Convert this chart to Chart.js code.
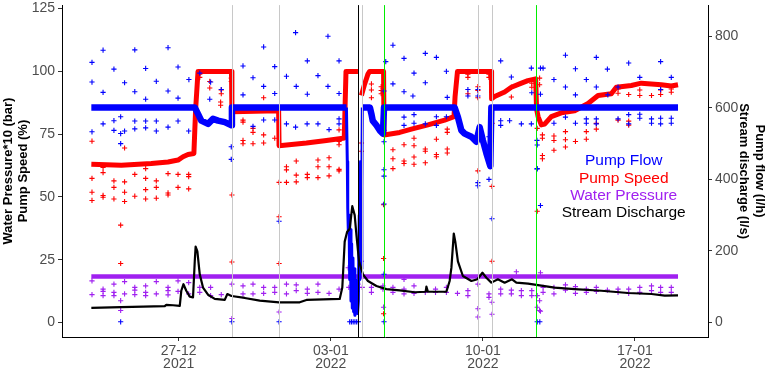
<!DOCTYPE html>
<html>
<head>
<meta charset="utf-8">
<script src="https://cdn.jsdelivr.net/npm/chart.js@4.4.1/dist/chart.umd.min.js"></script>
<style>
  html, body { margin: 0; padding: 0; background: #fff; }
  #wrap { width: 767px; height: 370px; }
</style>
</head>
<body>
<div id="wrap"><canvas id="chart" width="767" height="370"></canvas></div>
<script>
// x values: days after 27-12-2021 00:00
const xTicks = [0, 7, 14, 21];
const xTickLabels = [['27-12', '2021'], ['03-01', '2022'], ['10-01', '2022'], ['17-01', '2022']];
const leftTicks = [0, 25, 50, 75, 100, 125];
const rightTicks = [0, 200, 400, 600, 800];

const seriesNames = ['Pump Flow', 'Pump Speed', 'Water Pressure', 'Stream Discharge'];
const seriesColors = ['#0000ff', '#ff0000', '#a020f0', '#000000'];

// event markers (vertical lines)
const markerDays = [2.45, 4.62, 8.27, 8.42, 9.45, 13.77, 14.42, 16.43];
const markerColors = ['#c8c8c8', '#c8c8c8', '#000000', '#c8c8c8', '#00ee00', '#c8c8c8', '#c8c8c8', '#00ee00'];

// Pump flow (l/h), main band
const flowBand = [
  [-4.02, 601], [0.74, 601], [0.89, 583], [1.04, 564], [1.35, 555], [1.58, 569], [1.81, 564],
  [2.12, 560], [2.43, 551], [2.45, 601], [7.72, 601],
  [7.76, 450], [7.78, 320], [7.81, 250], [7.84, 300], [7.87, 120], [7.90, 260], [7.93, 60],
  [7.96, 220], [7.99, 40], [8.02, 180], [8.05, 30], [8.08, 150], [8.11, 20], [8.14, 120],
  [8.17, 30], [8.20, 80], [8.23, 25], [8.27, 60], [8.31, 300], [8.34, 120], [8.37, 450],
  [8.40, 150], [8.43, 380], [8.45, 601],
  [8.80, 601], [8.87, 583], [8.93, 564], [9.10, 551], [9.25, 537], [9.40, 528], [9.45, 601],
  [12.70, 601], [12.85, 574], [13.01, 537], [13.16, 528], [13.47, 519], [13.70, 505], [13.85, 546],
  [14.00, 509], [14.16, 473], [14.34, 437], [14.39, 601], [22.98, 601]
];
const flowBurst = [7.72, 8.45];

// Pump flow (l/h), scattered readings
const flowPoints = [
  [-3.99, 727], [-3.48, 761], [-3.99, 672], [-2.98, 708], [-2.02, 762], [-1.52, 710], [-0.49, 768],
  [-0.03, 714], [-2.49, 670], [-2.02, 645], [-3.48, 643], [-1.03, 674], [-0.49, 647], [-1.52, 624],
  [-0.03, 627], [-3.99, 533], [-3.48, 555], [-2.98, 564], [-2.67, 575], [-2.02, 563], [-1.52, 563],
  [-1.03, 563], [-0.49, 546], [-0.03, 563], [-2.98, 537], [-2.49, 535], [-2.67, 528], [-2.02, 541],
  [-1.52, 544], [-1.03, 535], [0.46, 535], [-2.67, 500], [0.47, 679], [0.97, 697], [1.47, 672],
  [1.96, 651], [1.43, 624], [2.42, 491], [2.42, 456], [2.45, 2], [-2.67, 2], [2.96, 717], [2.96, 636],
  [3.42, 684], [3.91, 770], [3.91, 660], [4.42, 715], [4.42, 640], [4.96, 688], [5.38, 810],
  [5.41, 660], [5.92, 731], [5.92, 638], [6.41, 690], [6.87, 800], [6.87, 660], [7.38, 731],
  [7.38, 640], [3.42, 548], [3.91, 566], [4.42, 566], [4.96, 555], [5.38, 546], [5.91, 555],
  [6.41, 555], [6.92, 539], [7.38, 569], [7.38, 555], [4.62, 283], [4.62, 2], [9.53, 729],
  [9.86, 667], [9.86, 775],
  [9.45, 647], [9.45, 537], [9.45, 505], [9.45, 427], [9.45, 409], [9.45, 331], [9.45, 135], [9.45, 2],
  [7.87, 2], [7.95, 2], [8.03, 2], [8.11, 2], [8.19, 2], [8.27, 2],
  [10.37, 738], [11.35, 752], [11.86, 741], [10.83, 697], [11.35, 670], [12.32, 702], [10.37, 645],
  [10.78, 633], [12.36, 629], [10.37, 574], [10.83, 581], [10.37, 551], [10.83, 557], [11.35, 555],
  [11.86, 575], [11.86, 551], [12.32, 575], [13.31, 651], [13.31, 633], [13.77, 651], [13.77, 633],
  [13.77, 391], [13.77, 382], [14.28, 400], [14.42, 290], [14.28, 519], [14.82, 731], [14.82, 564],
  [14.82, 551], [15.31, 686], [15.23, 564], [15.77, 555], [16.23, 555], [16.23, 711], [16.25, 642],
  [16.65, 711], [16.77, 711], [16.65, 638], [16.49, 509], [16.49, 429], [16.65, 327], [16.50, 2],
  [16.62, 2],
  [17.80, 747], [19.22, 741], [20.71, 725], [22.18, 729], [18.26, 709], [19.73, 708], [17.27, 679],
  [18.76, 679], [21.22, 685], [22.67, 685], [17.80, 658], [19.22, 658], [20.22, 658], [18.26, 636],
  [19.75, 636], [22.18, 651], [17.27, 557], [17.80, 574], [18.26, 557], [18.76, 569], [18.76, 557],
  [19.22, 569], [19.22, 555], [20.22, 569], [20.71, 581], [20.71, 555], [21.22, 582], [21.22, 571],
  [21.76, 569], [21.76, 557], [22.18, 571], [22.18, 555], [22.67, 571], [22.67, 557], [16.50, 430],
  [16.50, 496]
];

// Pump speed (%), main band
const speedBand = [
  [-4.02, 63.0], [-2.64, 62.6], [-1.26, 63.3], [-0.49, 63.9], [-0.03, 64.7], [0.20, 66.0],
  [0.43, 66.9], [0.70, 67.3], [0.78, 85], [0.89, 100], [2.43, 100], [2.45, 83.9], [4.60, 84.3],
  [4.62, 70.4], [5.88, 71.5], [6.80, 72.5], [7.56, 73.4], [7.62, 73.5], [7.70, 100], [8.25, 100],
  [8.33, null], [8.41, 90.4], [8.56, 95], [8.71, 98.9], [8.79, 100], [9.43, 100], [9.45, 74.7],
  [10.17, 75.7], [10.71, 77], [11.47, 78.7], [12.24, 80.6], [12.67, 82], [12.72, 90], [12.83, 100],
  [14.39, 100], [14.40, 89.1], [14.54, 90], [15.00, 91.8], [15.31, 93.7], [15.69, 95], [16.07, 96.3],
  [16.43, 97], [16.47, 85], [16.54, 82], [16.69, 78.7], [16.84, 79], [17.15, 82], [17.61, 83.5],
  [18.22, 84.3], [18.84, 87.2], [19.30, 90.4], [19.91, 91.1], [20.14, 93.7], [20.83, 94.4],
  [21.29, 95.3], [22.21, 94.7], [22.67, 94.2], [22.98, 94.7]
];

// Pump speed (%), scattered readings
const speedPoints = [
  [-3.99, 72.2], [-3.99, 57.4], [-3.99, 51.9], [-3.99, 48.6], [-3.48, 61.7], [-3.48, 59.7],
  [-3.48, 50.6], [-3.48, 49.9], [-2.98, 56.4], [-2.98, 53.8], [-2.98, 49.2], [-2.67, 38.8],
  [-2.67, 23.5], [-2.49, 69.5], [-2.49, 56.0], [-2.49, 51.9], [-2.49, 48.2], [-2.02, 59.0],
  [-2.02, 50.3], [-1.52, 61.3], [-1.52, 57.4], [-1.52, 52.9], [-1.52, 49.2], [-1.03, 56.4],
  [-1.03, 53.8], [-1.03, 49.5], [-0.49, 59.3], [-0.49, 51.6], [-0.49, 50.8], [-0.03, 59.0],
  [-0.03, 53.8], [0.46, 59.0], [0.46, 58.1], [0.46, 53.2], [0.97, 98.9], [0.97, 97.6], [1.43, 96.0],
  [1.43, 93.4], [1.96, 92.6], [1.96, 91.1], [1.93, 87.8], [1.93, 86.5], [2.42, 97.3], [2.42, 96.0],
  [2.45, 50.8], [2.45, 24.1], [2.96, 72.5], [2.96, 71.2], [2.96, 80.6], [2.96, 79.8], [3.42, 77.3],
  [3.42, 75.7], [3.42, 71.2], [3.91, 89.5], [3.91, 74.7], [3.91, 71.5], [4.42, 73.4], [4.62, 42.1],
  [4.62, 23.5], [4.62, 55.8], [4.96, 62.0], [4.96, 60.8], [4.96, 55.8], [5.41, 64.3], [5.41, 58.7],
  [5.41, 56.0], [5.92, 59.0], [5.92, 57.7], [6.41, 64.7], [6.41, 62.0], [6.41, 57.7], [6.92, 65.6],
  [6.92, 62.0], [6.92, 58.4], [7.38, 61.0], [7.38, 60.4], [7.38, 72.1], [7.38, 70.8], [7.38, 76.7],
  [8.87, 95.0], [8.87, 92.6], [8.87, 89.5], [9.32, 93.9], [9.32, 92.4], [9.32, 91.1], [9.86, 68.8],
  [9.86, 65.2], [9.86, 61.3], [9.43, 46.9], [9.43, 25.5], [9.43, 3.5], [8.41, 71.5], [8.41, 68.2],
  [10.83, 73.4], [10.83, 70.4], [10.37, 70.8], [10.37, 64.3], [10.37, 63.3], [10.83, 65.9],
  [10.83, 63.0], [11.35, 69.1], [11.35, 68.2], [11.35, 63.6], [11.86, 73.0], [11.86, 66.9],
  [11.86, 66.0], [12.36, 77.0], [12.36, 75.7], [12.36, 69.1], [12.36, 67.5], [13.31, 98.9],
  [13.31, 97.6], [13.31, 91.1], [13.77, 93.9], [13.77, 92.4], [13.77, 89.5], [13.77, 60.4],
  [14.28, 98.9], [14.28, 97.6], [14.42, 54.2], [14.42, 24.4], [14.42, 79.3], [15.31, 93.7],
  [15.31, 89.8], [16.25, 95.3], [16.25, 93.7], [16.50, 77.3], [16.50, 44.3], [16.74, 74.7],
  [16.74, 73.4], [16.74, 66.5], [16.74, 65.2], [16.61, 97.3], [16.61, 94.7], [17.27, 74.3],
  [17.27, 72.5], [17.27, 68.6], [17.80, 76.0], [17.80, 72.8], [17.80, 69.9], [18.26, 72.1],
  [18.76, 76.0], [18.76, 73.0], [19.22, 79.3], [19.22, 77.0], [20.22, 80.6], [20.71, 80.2],
  [20.71, 78.6], [20.22, 93.0], [20.22, 91.3], [20.71, 90.8], [21.22, 92.6], [21.22, 90.4],
  [21.76, 90.4], [22.18, 92.6], [22.18, 90.8], [22.67, 93.0], [22.67, 91.7]
];

// Water pressure (bar*10)
const pressureBand = [[-4.02, 18.3], [22.98, 18.3]];
const pressurePoints = [
  [-3.99, 16.6], [-3.99, 11.1], [-3.48, 13.3], [-3.48, 12.4], [-3.48, 10.7], [-2.98, 15.3],
  [-2.98, 12.0], [-2.98, 10.7], [-2.67, 8.7], [-2.67, 4.8], [-2.49, 16.3], [-2.49, 11.4],
  [-2.02, 14.0], [-2.02, 12.9], [-2.02, 11.1], [-1.52, 14.6], [-1.52, 12.0], [-1.52, 10.7],
  [-1.03, 16.3], [-1.03, 11.4], [-0.49, 14.0], [-0.49, 12.7], [-0.49, 11.0], [-0.03, 16.6],
  [-0.03, 12.4], [0.46, 15.9], [0.46, 11.4], [0.97, 14.0], [0.97, 12.0], [1.47, 14.0], [1.47, 10.7],
  [1.96, 11.1], [2.45, 15.3], [2.45, 1.6], [2.96, 14.6], [2.96, 11.4], [3.42, 15.3], [3.42, 11.4],
  [3.91, 14.0], [3.91, 11.6], [4.42, 14.0], [4.42, 12.0], [4.62, 4.2], [4.96, 15.3], [4.96, 11.4],
  [5.41, 15.0], [5.41, 12.7], [5.92, 13.3], [5.92, 11.6], [6.41, 15.3], [6.41, 12.0], [6.92, 11.6],
  [7.38, 13.3], [7.80, 21.8], [7.83, 14.0], [8.05, 7.4], [8.14, 3.5], [8.25, 15.3], [8.41, 24.4],
  [8.45, 14.0], [8.87, 14.0], [8.87, 12.0], [9.40, 14.6], [9.40, 13.3], [9.43, 6.1], [9.86, 14.0],
  [9.86, 12.0], [10.37, 17.2], [10.37, 13.3], [10.37, 11.4], [10.83, 14.6], [10.83, 11.6],
  [11.35, 12.0], [11.82, 13.3], [11.82, 12.0], [12.32, 14.0], [12.32, 12.0], [12.83, 11.6],
  [13.31, 12.7], [13.31, 10.7], [13.77, 15.3], [13.77, 5.5], [13.77, 2.2], [14.28, 11.4],
  [14.28, 10.0], [14.42, 8.1], [14.42, 3.3], [14.82, 13.3], [14.82, 11.4], [15.31, 12.9],
  [15.31, 11.4], [15.54, 20.2], [15.77, 12.7], [15.77, 10.7], [16.25, 12.7], [16.25, 10.7],
  [16.50, 6.1], [16.65, 4.5], [16.65, 19.8], [16.77, 14.0], [16.77, 12.0], [17.27, 14.0],
  [17.27, 11.4], [17.80, 15.0], [17.80, 12.9], [18.26, 14.3], [18.26, 11.6], [18.76, 13.3],
  [18.76, 12.0], [19.22, 14.0], [19.22, 12.4], [19.73, 12.9], [20.22, 13.3], [20.22, 12.0],
  [20.71, 13.3], [20.71, 11.6], [21.22, 14.0], [21.22, 12.0], [21.76, 14.6], [21.76, 12.7],
  [22.18, 14.0], [22.18, 12.0], [22.67, 14.0], [22.67, 12.0], [16.61, 8.7], [16.61, 4.8], [16.50, 10.7]
];

// Stream discharge (l/s)
const discharge = [
  [-4.02, 41], [-2.64, 42.8], [-0.64, 45.6], [-0.57, 49.4], [-0.26, 48.3], [0.05, 46.7], [0.12, 88.7],
  [0.22, 107], [0.35, 88.7], [0.51, 72.2], [0.66, 70.3], [0.74, 171], [0.78, 212], [0.86, 198.5],
  [0.97, 134.5], [1.12, 97.7], [1.35, 77.7], [1.66, 65.9], [2.12, 63.1], [2.24, 79.6], [2.43, 74.1],
  [3.04, 68.6], [3.73, 61.2], [4.62, 56.5], [5.57, 56.5], [5.88, 63.1], [7.41, 65.9], [7.53, 97.7],
  [7.64, 226], [7.75, 253], [7.87, 262], [7.99, 325], [8.10, 300], [8.18, 245], [8.30, 171],
  [8.48, 134.5], [8.71, 116], [9.10, 102], [9.56, 93.3], [10.17, 90], [10.86, 84.5], [11.37, 86],
  [11.40, 100.5], [11.47, 86], [12.32, 86], [12.47, 116], [12.55, 152.6], [12.66, 248.7],
  [12.73, 226], [12.85, 171], [13.08, 130], [13.47, 116], [13.75, 120.8], [13.98, 139], [14.16, 125],
  [14.39, 111.4], [14.69, 120.8], [15.00, 111.4], [15.34, 120.8], [15.54, 111.4], [16.08, 108.7],
  [16.46, 105], [17.30, 97.7], [18.22, 93.3], [19.45, 88.7], [20.68, 82.4], [21.76, 79.6],
  [22.37, 75], [22.98, 76]
];

const toXY = arr => arr.map(p => ({ x: p[0], y: p[1] }));

Chart.defaults.font.family = '"Liberation Sans", Arial, sans-serif';

function crossSet(data, color, axis) {
  return {
    data: toXY(data), yAxisID: axis, showLine: false,
    pointStyle: 'cross', pointRadius: 2.6, pointBorderWidth: 1.1,
    borderColor: color, backgroundColor: color
  };
}

function bandSet(data, color, axis, width) {
  return {
    data: toXY(data), yAxisID: axis, showLine: true, spanGaps: false,
    pointRadius: 0, borderColor: color, backgroundColor: color,
    borderWidth: width, borderJoinStyle: 'round', tension: 0
  };
}

const flowLine = bandSet(flowBand, seriesColors[0], 'y2', 6.5);
flowLine.segment = {
  borderWidth: c => (c.p0.parsed.x >= flowBurst[0] && c.p1.parsed.x <= flowBurst[1]) ? 3 : 6.5
};

// vertical event lines
const markerLines = {
  id: 'markerLines',
  afterDatasetsDraw(chart) {
    const { ctx, chartArea, scales } = chart;
    ctx.save();
    ctx.lineWidth = 1;
    markerDays.forEach((d, i) => {
      const x = Math.round(scales.x.getPixelForValue(d)) + 0.5;
      ctx.strokeStyle = markerColors[i];
      ctx.beginPath();
      ctx.moveTo(x, chartArea.top);
      ctx.lineTo(x, chartArea.bottom);
      ctx.stroke();
    });
    ctx.restore();
  }
};

// text legend inside the panel
const legendDay = 20.48, legendTop = 64.3, legendStep = 6.9;
const textLegend = {
  id: 'textLegend',
  afterDraw(chart) {
    const { ctx, scales } = chart;
    const x = scales.x.getPixelForValue(legendDay);
    ctx.save();
    ctx.font = '15.5px "Liberation Sans", Arial, sans-serif';
    ctx.textAlign = 'center';
    ctx.textBaseline = 'middle';
    seriesNames.forEach((name, i) => {
      ctx.fillStyle = seriesColors[i];
      ctx.fillText(name, x, scales.y.getPixelForValue(legendTop - i * legendStep));
    });
    ctx.restore();
  }
};

const tickFont = { size: 14, lineHeight: 0.95 };
const tickGrid = { display: true, drawOnChartArea: false, tickLength: 4, color: '#333333' };
const axisBorder = { display: true, color: '#000000', width: 1 };

new Chart(document.getElementById('chart'), {
  type: 'scatter',
  data: {
    datasets: [
      bandSet(discharge, seriesColors[3], 'y2', 2.2),
      flowLine,
      crossSet(flowPoints, seriesColors[0], 'y2'),
      bandSet(speedBand, seriesColors[1], 'y', 5),
      crossSet(speedPoints, seriesColors[1], 'y'),
      bandSet(pressureBand, seriesColors[2], 'y', 4.5),
      crossSet(pressurePoints, seriesColors[2], 'y')
    ]
  },
  options: {
    responsive: false,
    animation: false,
    events: [],
    layout: { padding: 0 },
    plugins: { legend: { display: false }, tooltip: { enabled: false } },
    scales: {
      x: {
        type: 'linear', min: -5.37, max: 24.36,
        afterBuildTicks: s => { s.ticks = xTicks.map(v => ({ value: v })); },
        afterFit: s => { s.height = 33; s.paddingLeft = 0; s.paddingRight = 0; },
        ticks: {
          autoSkip: false, maxRotation: 0, padding: 3, color: '#4d4d4d', font: tickFont,
          callback: v => xTickLabels[xTicks.indexOf(v)]
        },
        grid: tickGrid, border: axisBorder
      },
      y: {
        position: 'left', min: -5.76, max: 126.39,
        afterBuildTicks: s => { s.ticks = leftTicks.map(v => ({ value: v })); },
        afterFit: s => { s.width = 62; s.paddingTop = 0; s.paddingBottom = 0; },
        ticks: { autoSkip: false, padding: 3, color: '#4d4d4d', font: tickFont },
        grid: tickGrid, border: axisBorder,
        title: {
          display: true, text: ['Water Pressure*10 (bar)', 'Pump Speed (%)'], color: '#000',
          font: { size: 13, weight: 'bold', lineHeight: 1.15 }, padding: { top: 1, bottom: 0 }
        }
      },
      y2: {
        position: 'right', min: -40.5, max: 887,
        afterBuildTicks: s => { s.ticks = rightTicks.map(v => ({ value: v })); },
        afterFit: s => { s.width = 59; s.paddingTop = 0; s.paddingBottom = 0; },
        ticks: { autoSkip: false, padding: 3, color: '#4d4d4d', font: tickFont },
        grid: tickGrid, border: axisBorder,
        title: {
          display: true, text: ['Pump flow (l/h)', 'Stream discharge (l/s)'], color: '#000',
          font: { size: 13, weight: 'bold', lineHeight: 1.2 }, padding: { top: 0, bottom: 0 }
        }
      }
    }
  },
  plugins: [markerLines, textLegend]
});
</script>
</body>
</html>
